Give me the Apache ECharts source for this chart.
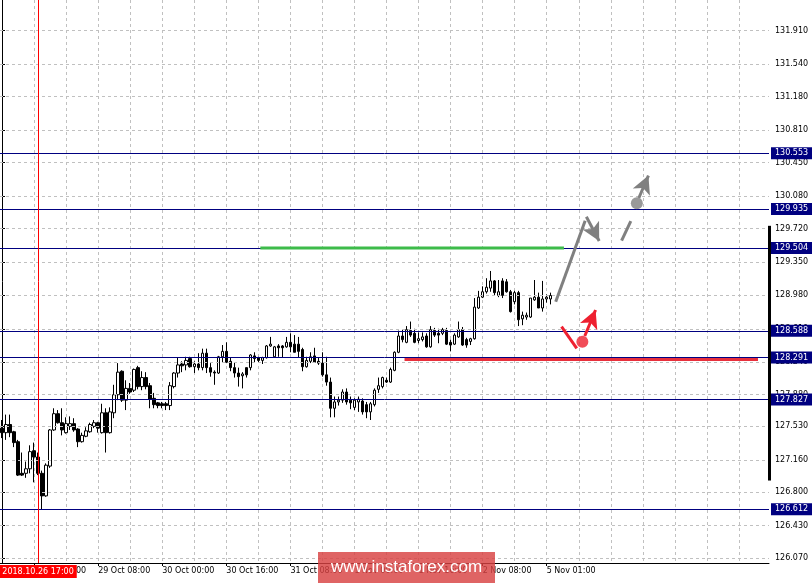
<!DOCTYPE html>
<html><head><meta charset="utf-8">
<script src="https://cdn.jsdelivr.net/npm/echarts@6/dist/echarts.min.js"></script>
<style>html,body{margin:0;padding:0;background:#fff}#c{width:812px;height:583px}</style>
</head><body><div id="c"></div>
<script>
// ---- data ----
const timeTicks = ['26 Oct 16:00','29 Oct 08:00','30 Oct 00:00','30 Oct 16:00','31 Oct 08:00','1 Nov 00:00','1 Nov 16:00','2 Nov 08:00','5 Nov 01:00'];
const priceTicks = ['131.910','131.540','131.180','130.810','130.450','130.080','129.720','129.350','128.980','128.610','128.240','127.880','127.530','127.160','126.800','126.430','126.070'];
const levels = [130.553, 129.935, 129.504, 128.588, 128.291, 127.827, 126.612];
const lastPrice = 128.978;
const crossIndex = 9;
const crossTime = '2018.10.26 17:00';
// [open, close, low, high]
const candles = [
[127.51,127.46,127.40,127.60],[127.46,127.55,127.38,127.66],[127.55,127.46,127.41,127.66],[127.47,127.35,127.30,127.48],
[127.36,126.99,126.98,127.38],[127.01,126.99,126.98,127.24],[127.01,127.06,126.96,127.14],[127.06,127.25,127.01,127.32],
[127.26,127.19,126.91,127.35],[127.19,127.01,126.99,127.24],[127.01,126.76,126.61,127.04],[126.76,127.10,126.75,127.12],
[127.09,127.49,127.07,127.50],[127.49,127.67,127.48,127.73],[127.67,127.57,127.56,127.71],[127.57,127.49,127.43,127.73],
[127.46,127.56,127.45,127.63],[127.53,127.56,127.49,127.64],[127.56,127.49,127.47,127.62],[127.50,127.36,127.30,127.51],
[127.36,127.43,127.35,127.46],[127.42,127.48,127.41,127.52],[127.47,127.55,127.46,127.57],[127.53,127.57,127.51,127.60],
[127.57,127.51,127.46,127.58],[127.46,127.68,127.45,127.78],[127.68,127.46,127.24,127.73],[127.46,127.69,127.45,127.74],
[127.68,127.88,127.62,127.99],[127.88,128.13,127.82,128.23],[128.14,127.82,127.80,128.15],[127.82,127.95,127.71,128.04],
[127.95,127.91,127.89,128.01],[127.93,128.16,127.91,128.17],[128.18,127.97,127.94,128.20],[127.97,128.07,127.93,128.14],
[128.07,127.97,127.94,128.13],[127.98,127.83,127.73,128.01],[127.84,127.77,127.73,127.90],[127.79,127.76,127.73,127.80],
[127.78,127.76,127.73,127.80],[127.78,127.76,127.71,127.80],[127.76,127.98,127.71,128.02],[127.97,128.12,127.95,128.13],
[128.12,128.21,128.07,128.29],[128.22,128.20,128.13,128.25],[128.21,128.26,128.15,128.30],[128.28,128.19,128.18,128.30],
[128.19,128.22,128.12,128.25],[128.22,128.18,128.15,128.34],[128.18,128.34,128.15,128.39],[128.34,128.18,128.12,128.39],
[128.18,128.13,128.08,128.23],[128.13,128.12,127.99,128.15],[128.12,128.30,128.11,128.31],[128.30,128.36,128.24,128.43],
[128.36,128.24,128.23,128.46],[128.25,128.18,128.14,128.29],[128.18,128.12,128.07,128.24],[128.12,128.08,127.97,128.18],
[128.09,128.11,127.95,128.13],[128.18,128.10,128.07,128.18],[128.18,128.32,128.15,128.33],[128.31,128.28,128.24,128.35],
[128.29,128.26,128.24,128.30],[128.26,128.29,128.22,128.30],[128.29,128.42,128.28,128.43],[128.42,128.44,128.41,128.52],
[128.30,128.41,128.29,128.42],[128.42,128.40,128.30,128.44],[128.42,128.40,128.29,128.43],[128.41,128.46,128.40,128.52],
[128.46,128.41,128.35,128.56],[128.44,128.35,128.35,128.54],[128.44,128.36,128.29,128.52],[128.38,128.19,128.14,128.40],
[128.19,128.26,128.18,128.30],[128.25,128.30,128.23,128.35],[128.31,128.24,128.24,128.40],[128.25,128.23,128.21,128.29],
[128.23,128.10,128.08,128.35],[128.10,128.02,127.98,128.30],[128.02,127.73,127.63,128.07],[127.73,127.80,127.63,127.86],
[127.80,127.82,127.76,127.86],[127.82,127.91,127.79,127.94],[127.91,127.80,127.77,127.95],[127.82,127.79,127.72,127.86],
[127.74,127.82,127.71,127.84],[127.80,127.83,127.69,127.86],[127.81,127.69,127.66,127.84],[127.77,127.69,127.62,127.80],
[127.69,127.78,127.60,127.80],[127.77,127.93,127.75,127.95],[127.94,127.98,127.90,128.07],[127.97,128.07,127.95,128.08],
[128.04,128.02,128.01,128.07],[128.02,128.16,128.01,128.18],[128.15,128.35,128.14,128.36],[128.35,128.53,128.34,128.59],
[128.53,128.49,128.46,128.60],[128.46,128.60,128.45,128.64],[128.59,128.54,128.52,128.69],[128.56,128.46,128.45,128.61],
[128.48,128.50,128.45,128.57],[128.49,128.52,128.47,128.57],[128.53,128.41,128.40,128.56],[128.41,128.60,128.40,128.64],
[128.59,128.54,128.52,128.62],[128.56,128.54,128.45,128.61],[128.56,128.60,128.54,128.62],[128.59,128.44,128.43,128.62],
[128.46,128.43,128.36,128.49],[128.44,128.54,128.43,128.56],[128.52,128.60,128.51,128.69],[128.60,128.43,128.42,128.63],
[128.49,128.43,128.40,128.51],[128.47,128.50,128.43,128.51],[128.50,128.85,128.49,128.95],[128.84,128.96,128.83,129.03],
[128.96,129.02,128.95,129.08],[129.02,129.07,129.00,129.17],[129.06,129.14,129.02,129.25],[129.14,129.01,128.98,129.15],
[128.98,129.02,128.96,129.15],[129.14,128.98,128.95,129.17],[129.13,129.02,129.01,129.16],[129.02,128.80,128.79,129.04],
[128.91,129.01,128.88,129.03],[129.01,128.71,128.64,129.03],[128.72,128.76,128.65,128.80],[128.74,128.76,128.71,128.79],
[128.74,128.95,128.73,128.95],[128.93,128.96,128.92,129.15],[128.96,128.84,128.84,129.01],[128.84,128.94,128.80,129.14],
[128.94,128.96,128.90,128.99],[128.94,128.978,128.88,129.01]
];
// annotations, in [bar index, price]
const greenLevel = [[64.5,129.504],[140.3,129.504]];
const redLevel = [[100.5,128.27],[188.75,128.27]];
const grayPath = [[138.25,128.91],[145.6,129.807]];
const grayArrowDown = [[145.9,129.851],[149.1,129.582]];
const grayDash = [[154.7,129.585],[157.0,129.803]];
const grayDot = [158.5,130.00];
const grayArrowUp = [[159.0,130.058],[161.4,130.306]];
const redPath = [[139.7,128.633],[143.5,128.394]];
const redDot = [144.9,128.467];
const redArrowUp = [[145.5,128.53],[148.2,128.818]];
const axisBar = [191.5, 126.93, 129.75]; // [slot, low price, high price]

// ---- chart ----
const SLOTS = 192;
const FONT = 'DejaVu Sans';
const GRAY = '#808080', RED = '#ee2030', GREEN = '#3dbb4a';
const categories = Array.from({length: SLOTS}, (_, i) => String(i));
const chart = echarts.init(document.getElementById('c'), null, {renderer: 'canvas'});

function segSeries(pts, color, width, z) {
  return {type: 'line', xAxisIndex: 1, yAxisIndex: 0, data: pts, showSymbol: false, symbol: 'none',
    silent: true, clip: false, z: z || 6, lineStyle: {color, width, type: 'solid', cap: 'butt'}, itemStyle: {color}};
}
function arrow(pts, color) {
  return [
    {coord: pts[0], symbol: 'none', lineStyle: {color, width: 3, type: 'solid'}, itemStyle: {color}},
    {coord: pts[1], symbol: 'arrow', symbolSize: [14, 18], lineStyle: {color, width: 3, type: 'solid'}, itemStyle: {color}}
  ];
}

const option = {
  animation: false,
  backgroundColor: '#ffffff',
  grid: {left: 0, top: 0, right: 43, bottom: 20, containLabel: false},
  xAxis: [{
    type: 'category', data: categories, boundaryGap: true,
    axisLine: {show: true, lineStyle: {color: '#000', width: 1}},
    axisTick: {show: true, alignWithLabel: true, length: 3, lineStyle: {color: '#000'},
      interval: (i) => (i - 8) % 16 === 0 && (i - 8) / 16 < timeTicks.length},
    axisLabel: {show: true, interval: (i) => (i - 8) % 16 === 0 && (i - 8) / 16 < timeTicks.length,
      formatter: (v, i) => timeTicks[(i - 8) / 16] || '', align: 'left', margin: 4,
      color: '#000', fontFamily: FONT, fontSize: 8},
    splitLine: {show: true, alignWithLabel: true, interval: (i) => i > 0 && i % 8 === 0,
      lineStyle: {color: '#c0c0c0', type: [3, 3], width: 1}}
  }, {
    type: 'value', min: -0.5, max: SLOTS - 0.5, show: false
  }],
  yAxis: [{
    type: 'value', position: 'right', min: 126.017, max: 132.25, scale: true,
    axisLine: {show: true, lineStyle: {color: '#000', width: 1}},
    axisTick: {show: true, length: 3, lineStyle: {color: '#000'}, customValues: priceTicks.map(Number)},
    axisLabel: {show: true, margin: 6, color: '#000', fontFamily: FONT, fontSize: 8,
      customValues: priceTicks.map(Number), formatter: (v) => Number(v).toFixed(3)},
    splitLine: {show: false}
  }],
  series: [
    {
      type: 'line', name: 'grid', xAxisIndex: 1, yAxisIndex: 0, data: [], z: 1, silent: true,
      markLine: {silent: true, symbol: ['none', 'none'], label: {show: false}, precision: 3,
        lineStyle: {color: '#c0c0c0', type: [3, 3], width: 1},
        data: priceTicks.map(v => ({yAxis: Number(v)}))}
    },
    {
      type: 'candlestick', name: 'USDJPY', xAxisIndex: 0, yAxisIndex: 0, data: candles, z: 3,
      barWidth: 3,
      itemStyle: {color: '#ffffff', color0: '#000000', borderColor: '#000000', borderColor0: '#000000', borderWidth: 1},
      markLine: {
        silent: true, symbol: ['none', 'none'], precision: 3,
        lineStyle: {color: '#000080', width: 1, type: 'solid'},
        label: {show: true, position: 'end', distance: 2, color: '#ffffff', backgroundColor: '#000080',
          padding: [1, 4, 1, 4], fontFamily: FONT, fontSize: 8, lineHeight: 10,
          formatter: (p) => Number(p.value).toFixed(3)},
        data: levels.map(v => ({yAxis: v})).concat([{yAxis: lastPrice,
          lineStyle: {opacity: 0}, label: {backgroundColor: '#000000'}}])
      }
    },
    segSeries(greenLevel, GREEN, 3),
    segSeries(redLevel, '#e8303c', 3),
    segSeries(grayPath, GRAY, 3),
    segSeries(grayDash, GRAY, 3),
    segSeries(redPath, RED, 3),
    {
      type: 'custom', name: 'axisBar', xAxisIndex: 1, yAxisIndex: 0, silent: true, clip: false, z: 8,
      data: [axisBar],
      renderItem: (params, api) => {
        const top = api.coord([api.value(0), api.value(2)]);
        const bot = api.coord([api.value(0), api.value(1)]);
        return {type: 'rect', shape: {x: top[0] - 1, y: top[1], width: 3, height: bot[1] - top[1]},
          style: {fill: '#000000'}};
      }
    },
    {
      type: 'scatter', name: 'annotations', xAxisIndex: 1, yAxisIndex: 0, z: 7, silent: true,
      symbolSize: 12,
      data: [
        {value: grayDot, itemStyle: {color: GRAY}},
        {value: redDot, itemStyle: {color: RED}}
      ],
      markLine: {
        silent: true, symbol: ['none', 'none'], label: {show: false}, precision: 3,
        data: [
          arrow(grayArrowDown, GRAY),
          arrow(grayArrowUp, GRAY),
          arrow(redArrowUp, RED),
          {xAxis: crossIndex, lineStyle: {color: '#ff0000', width: 1, type: 'solid'},
            label: {show: true, position: 'start', distance: 2, formatter: crossTime,
              color: '#ffffff', backgroundColor: '#ff0000', padding: [2, 3, 1, 3],
              fontFamily: FONT, fontSize: 8, lineHeight: 10}}
        ]
      }
    }
  ],
  graphic: [{
    type: 'group', left: 318, top: 552, z: 100,
    children: [
      {type: 'rect', z: 100, shape: {x: 0, y: 0, width: 177, height: 31}, style: {fill: 'rgba(216,66,66,0.82)'}},
      {type: 'text', z: 101, x: 88.5, y: 15.5, style: {text: 'www.instaforex.com', align: 'center', verticalAlign: 'middle',
        fill: '#ffffff', font: '17px "Liberation Sans"'}}
    ]
  }]
};
chart.setOption(option);
</script>
</body></html>
